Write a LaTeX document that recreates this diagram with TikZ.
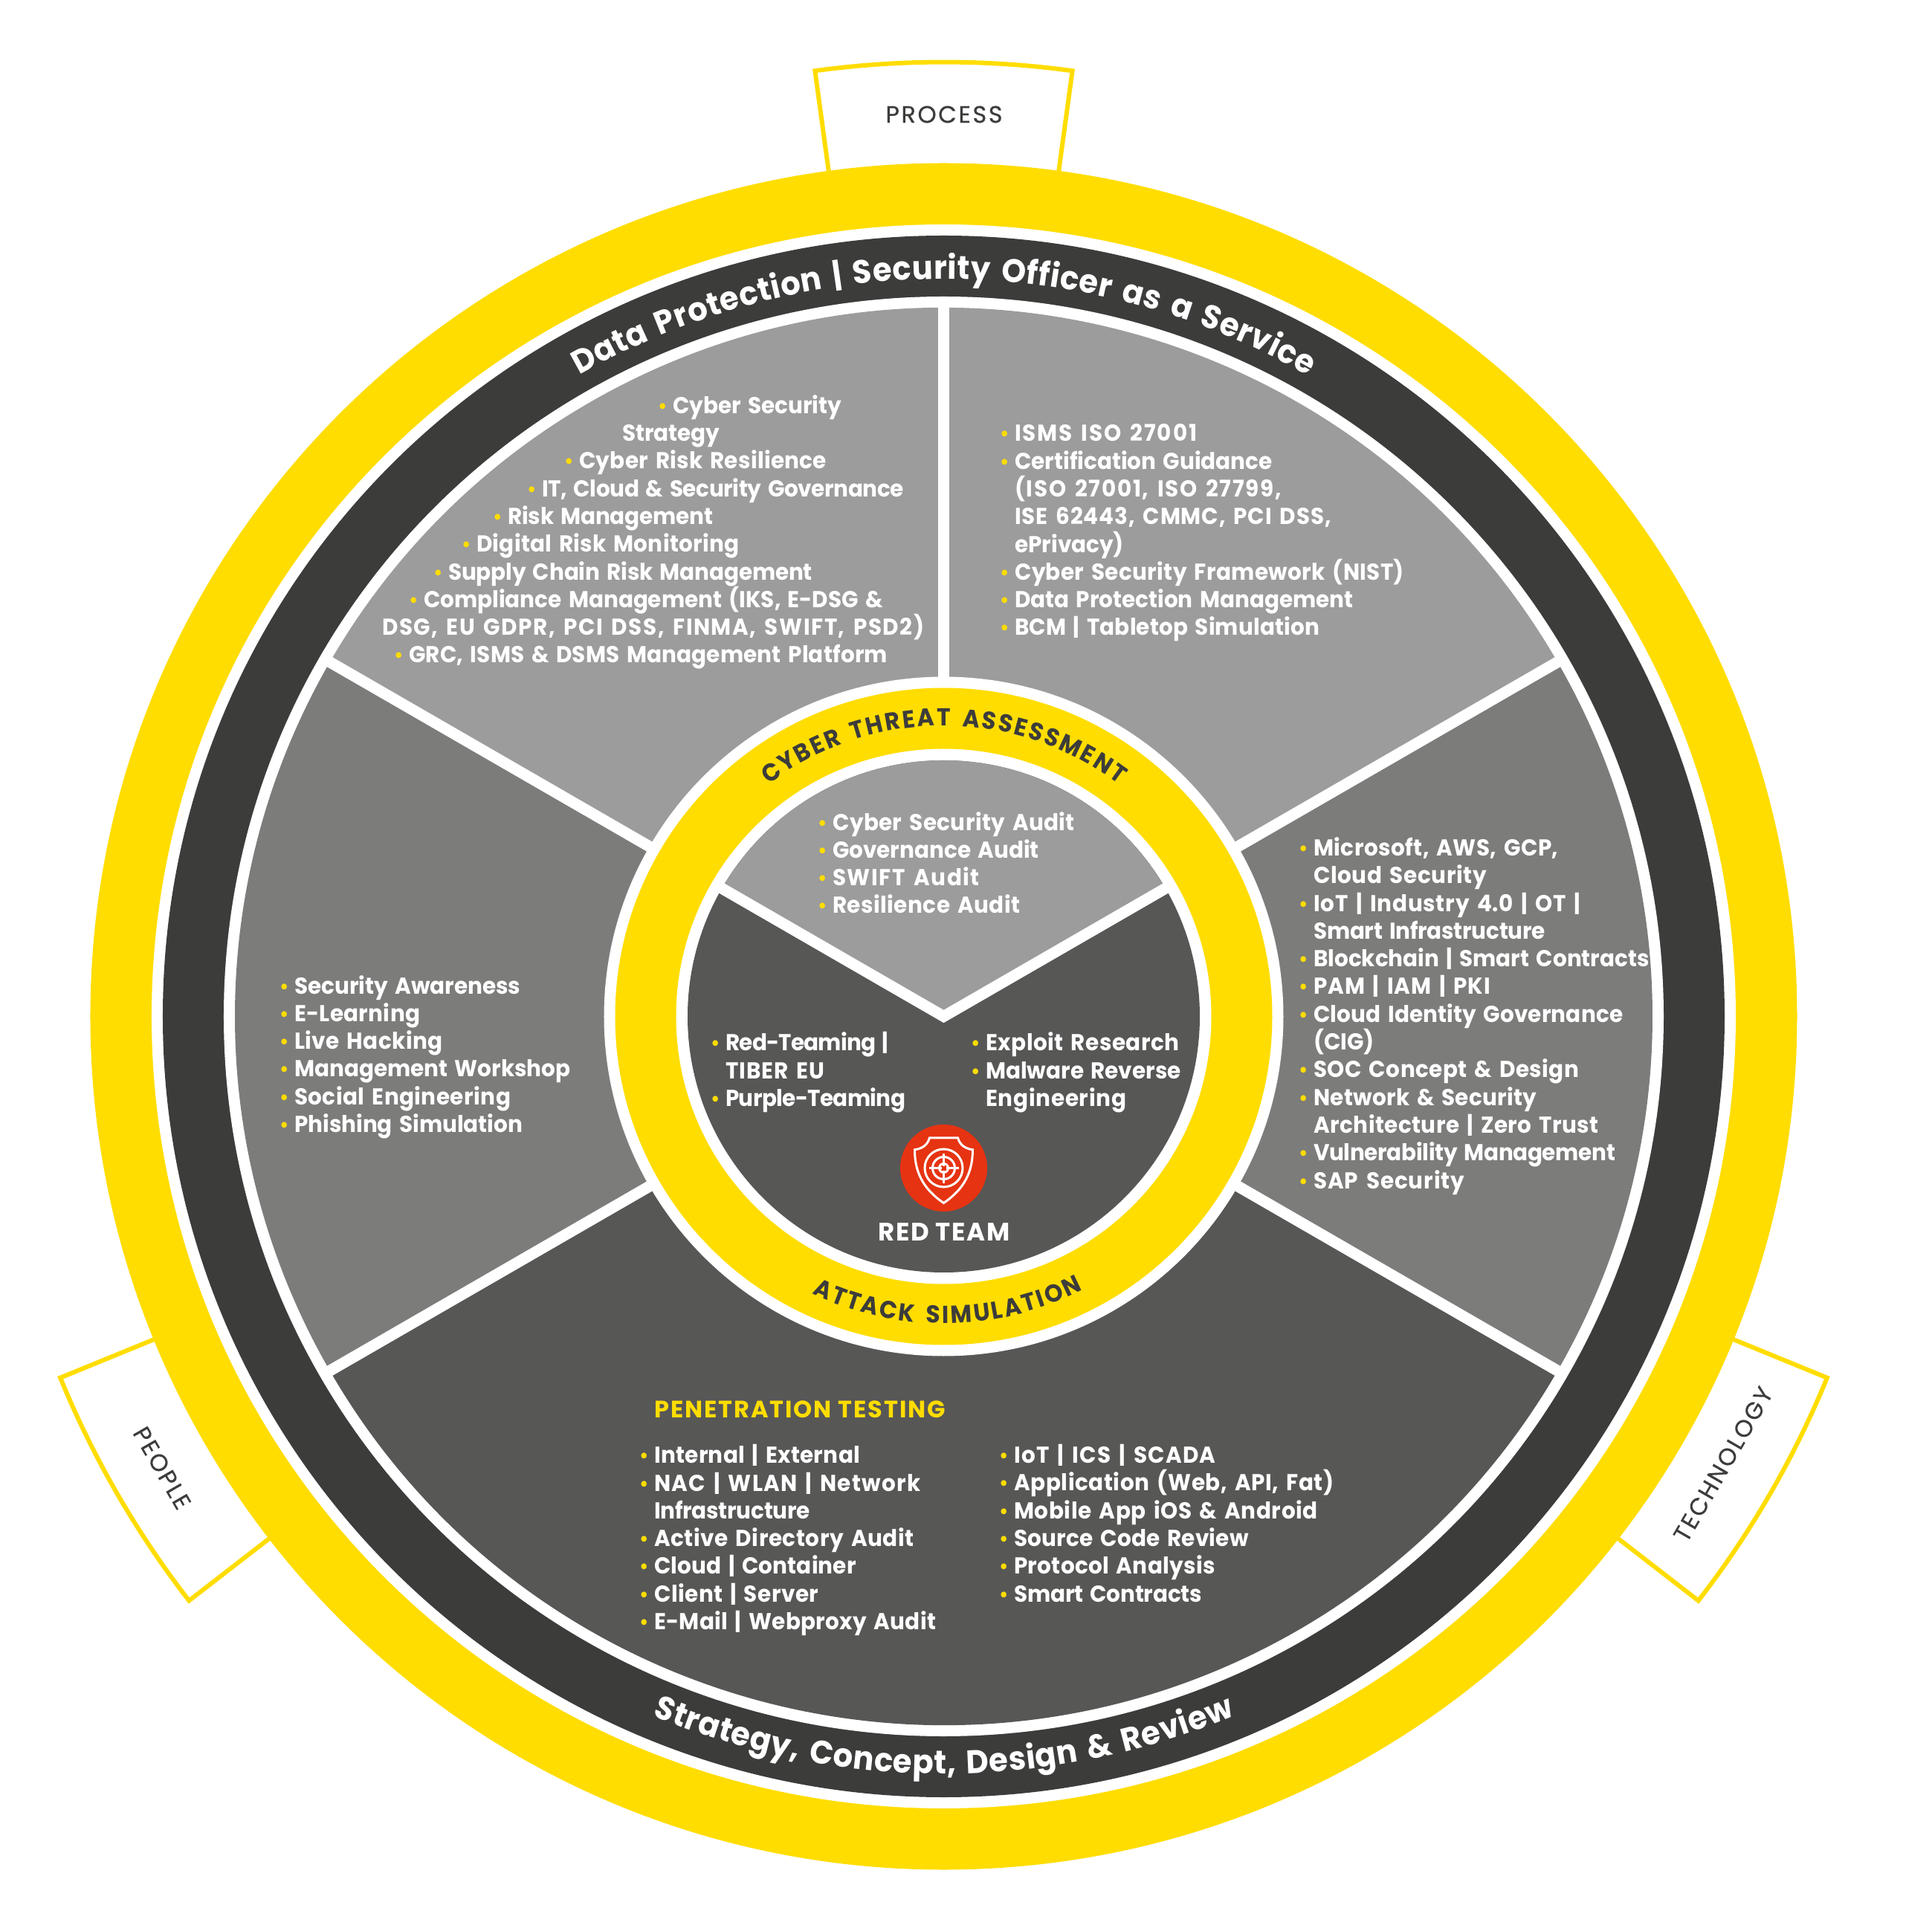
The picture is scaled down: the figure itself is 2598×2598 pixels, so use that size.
\documentclass[tikz,border=0pt]{standalone}
\usepackage{fontspec}
\usetikzlibrary{decorations.text}
\setmainfont{Poppins}
\newfontfamily\bodyf{Poppins}[FakeStretch=0.95,WordSpace=1.5]
\newfontfamily\capsf{Poppins}[LetterSpace=5]
\newfontfamily\tabf{Poppins}[FakeBold=0.4,LetterSpace=8]
\newfontfamily\ringf{Poppins}[FakeStretch=0.95,WordSpace=1.5]
\definecolor{ygold}{HTML}{FFDD00}
\definecolor{ringdark}{HTML}{3C3C3B}
\definecolor{greytop}{HTML}{9C9C9C}
\definecolor{greyside}{HTML}{7C7C7B}
\definecolor{greylow}{HTML}{575756}
\definecolor{redteam}{HTML}{E63312}
\newcommand{\bul}{\llap{\makebox[20pt][l]{\textcolor{ygold}{\fontsize{26}{26}\selectfont\raisebox{1pt}{•}}}}}
\newcommand{\ind}[1]{\hspace*{#1pt}}
\newcommand{\ls}[2]{{\addfontfeatures{LetterSpace=#1}#2}}
\tikzset{
  tabshape/.style={draw=ygold,line width=6pt,fill=white,miter limit=20},
  spoke/.style={white,line width=15pt},
  block/.style={anchor=base west,inner sep=0pt,align=left,text=white,font=\bodyf\bfseries\fontsize{31}{37.3}\selectfont},
  capslabel/.style={inner sep=0pt,text=white,font=\capsf\bfseries\fontsize{34}{40}\selectfont},
  pentitle/.style={anchor=base west,inner sep=0pt,text=ygold,font=\capsf\bfseries\fontsize{32}{38}\selectfont},
  tablabel/.style={inner sep=0pt,text=ringdark,font=\tabf\fontsize{32}{38}\selectfont},
  ringtext/.style={decorate,decoration={text along path,text format delimiters={[}{]},text align=fit to path,text={#1}}}
}
\begin{document}
\begin{tikzpicture}[x=1pt,y=1pt]
\useasboundingbox (-1269.5,-1230.5) rectangle (1328.5,1367.5);
\fill[white] (-1269.5,-1230.5) rectangle (1328.5,1367.5);
% tabs
\draw[tabshape] (97.75:1120) -- (97.75:1284) arc[start angle=97.75,end angle=82.25,radius=1284] -- (82.25:1120);
\draw[tabshape] (202.25:1120) -- (202.25:1284) arc[start angle=202.25,end angle=217.75,radius=1284] -- (217.75:1120);
\draw[tabshape] (322.25:1120) -- (322.25:1284) arc[start angle=322.25,end angle=337.75,radius=1284] -- (337.75:1120);
% rings
\fill[ygold] (0,0) circle (1148);
\fill[white] (0,0) circle (1065.5);
\fill[ringdark] (0,0) circle (1050.5);
\fill[white] (0,0) circle (968.5);
% sectors
\fill[greytop] (0,0) -- (30:953.5) arc[start angle=30,end angle=150,radius=953.5] -- cycle;
\fill[greyside] (0,0) -- (150:953.5) arc[start angle=150,end angle=210,radius=953.5] -- cycle;
\fill[greylow] (0,0) -- (210:953.5) arc[start angle=210,end angle=330,radius=953.5] -- cycle;
\fill[greyside] (0,0) -- (-30:953.5) arc[start angle=-30,end angle=30,radius=953.5] -- cycle;
\foreach \a in {30,90,150,210,330} \draw[spoke] (\a:450) -- (\a:960);
% inner rings
\fill[white] (0,0) circle (457);
\fill[ygold] (0,0) circle (442);
\fill[white] (0,0) circle (360);
\fill[greylow] (0,0) circle (344.5);
\fill[greytop] (0,0) -- (30:344.5) arc[start angle=30,end angle=150,radius=344.5] -- cycle;
\draw[spoke,miter limit=10] (30:352) -- (0,0) -- (150:352);
% ring texts
\path[ringtext={[\ringf\bfseries\fontsize{44}{52}\selectfont\color{white}]Data Protection | Security Officer as a Service}]
  (119.6:992) arc[start angle=119.6,end angle=60.4,radius=992];
\path[ringtext={[\ringf\bfseries\fontsize{44}{52}\selectfont\color{white}]Strategy, Concept, Design {\&} Review}]
  (247.4:1019) arc[start angle=247.4,end angle=292.6,radius=1019];
\path[ringtext={[\ringf\bfseries\fontsize{33}{40}\selectfont\color{ringdark}]CYBER THREAT ASSESSMENT}]
  (127:391) arc[start angle=127,end angle=53,radius=391];
\path[ringtext={[\ringf\bfseries\fontsize{33}{40}\selectfont\color{ringdark}]ATTACK SIMULATION}]
  (244.6:413) arc[start angle=244.6,end angle=297,radius=413];
% icon
\fill[redteam] (0,-204) circle (58.5);
\begin{scope}[shift={(0pt,-204pt)},white,line width=3pt]
\draw[miter limit=10] (-19,40.7) -- (19,40.7) .. controls (22,30) and (30,26) .. (39,24.7) .. controls (39,-5) and (28,-28) .. (0,-47) .. controls (-28,-28) and (-39,-5) .. (-39,24.7) .. controls (-30,26) and (-22,30) .. (-19,40.7) -- cycle;
\draw (0,0) circle (25.5);
\draw (0,0) circle (15);
\draw (0,0) circle (6);
\draw (-20,0) -- (-3,0) (3,0) -- (20,0) (0,-20) -- (0,-3) (0,3) -- (0,20);
\end{scope}
% text blocks in pixel coordinates (anchor: baseline of the last line)
\begin{scope}[x=1pt,y=-1pt,shift={(-1269.5pt,1367.5pt)}]
\node[tablabel] (process) at (1270,154) {PROCESS};
\node[tablabel,rotate=-60] (people) at (218,1975) {PEOPLE};
\node[tablabel,rotate=60] (technology) at (2318,1970) {TECHNOLOGY};
\node[block] (tl) at (514,892) {%
\ind{391}\bul Cyber Security\\
\ind{323}Strategy\\
\ind{265}\bul \ls{1}{Cyber Risk Resilience}\\
\ind{215}\bul \ls{-1.2}{IT, Cloud \& Security Governance}\\
\ind{169}\bul \ls{-0.5}{Risk Management}\\
\ind{127}\bul \ls{1}{Digital Risk Monitoring}\\
\ind{89}\bul \ls{-0.4}{Supply Chain Risk Management}\\
\ind{56}\bul Compliance Management (IKS, E-DSG \&\\
\ls{5}{DSG, EU GDPR, PCI DSS, FINMA, SWIFT, PSD2)}\\
\ind{36}\bul \ls{0.6}{GRC, ISMS \& DSMS Management Platform}};
\node[block] (tr) at (1365,855) {%
\bul \ls{6}{ISMS ISO 27001}\\
\bul Certification Guidance\\
\ls{5.5}{(ISO 27001, ISO 27799,}\\
\ls{3}{ISE 62443, CMMC, PCI DSS,}\\
ePrivacy)\\
\bul \ls{1.2}{Cyber Security Framework (NIST)}\\
\bul Data Protection Management\\
\bul \ls{0.5}{BCM | Tabletop Simulation}};
\node[block] (rt) at (1767,1599) {%
\bul \ls{1.5}{Microsoft, AWS, GCP,}\\
\ls{2}{Cloud Security}\\
\bul \ls{2.5}{IoT | Industry 4.0 | OT |}\\
\ls{-0.8}{Smart Infrastructure}\\
\bul Blockchain | Smart Contracts\\
\bul \ls{3}{PAM | IAM | PKI}\\
\bul \ls{0.5}{Cloud Identity Governance}\\
(CIG)\\
\bul \ls{1.5}{SOC Concept \& Design}\\
\bul \ls{1}{Network \& Security}\\
\ls{1.5}{Architecture | Zero Trust}\\
\bul \ls{-1}{Vulnerability Management}\\
\bul \ls{3}{SAP Security}};
\node[block] (lf) at (396,1523.5) {%
\bul Security Awareness\\
\bul \ls{1}{E-Learning}\\
\bul \ls{1.5}{Live Hacking}\\
\bul Management Workshop\\
\bul \ls{1.5}{Social Engineering}\\
\bul Phishing Simulation};
\node[block] (audit) at (1120,1229) {%
\bul \ls{1.3}{Cyber Security Audit}\\
\bul Governance Audit\\
\bul \ls{5}{SWIFT Audit}\\
\bul \ls{1.5}{Resilience Audit}};
\node[block] (redl) at (976,1488.5) {%
\bul \ls{-2.5}{Red-Teaming |}\\
\ls{3}{TIBER EU}\\
\bul \ls{-2}{Purple-Teaming}};
\node[block] (redr) at (1326,1488.5) {%
\bul \ls{1.7}{Exploit Research}\\
\bul Malware Reverse\\
\ls{2.4}{Engineering}};
\node[capslabel,anchor=base] (redteamlabel) at (1270,1669) {RED TEAM};
\node[pentitle] (pentest) at (880,1907) {\addfontfeatures{LetterSpace=6}PENETRATION TESTING};
\node[block] (penl) at (880,2192.5) {%
\bul \ls{1}{Internal | External}\\
\bul \ls{4}{NAC | WLAN | Network}\\
\ls{-0.8}{Infrastructure}\\
\bul \ls{1.8}{Active Directory Audit}\\
\bul \ls{0.5}{Cloud | Container}\\
\bul \ls{1.5}{Client | Server}\\
\bul \ls{1}{E-Mail | Webproxy Audit}};
\node[block] (penr) at (1364,2155) {%
\bul \ls{4}{IoT | ICS | SCADA}\\
\bul \ls{2}{Application (Web, API, Fat)}\\
\bul \ls{2}{Mobile App iOS \& Android}\\
\bul \ls{0.8}{Source Code Review}\\
\bul \ls{1}{Protocol Analysis}\\
\bul \ls{-0.5}{Smart Contracts}};
\end{scope}
\end{tikzpicture}
\end{document}
